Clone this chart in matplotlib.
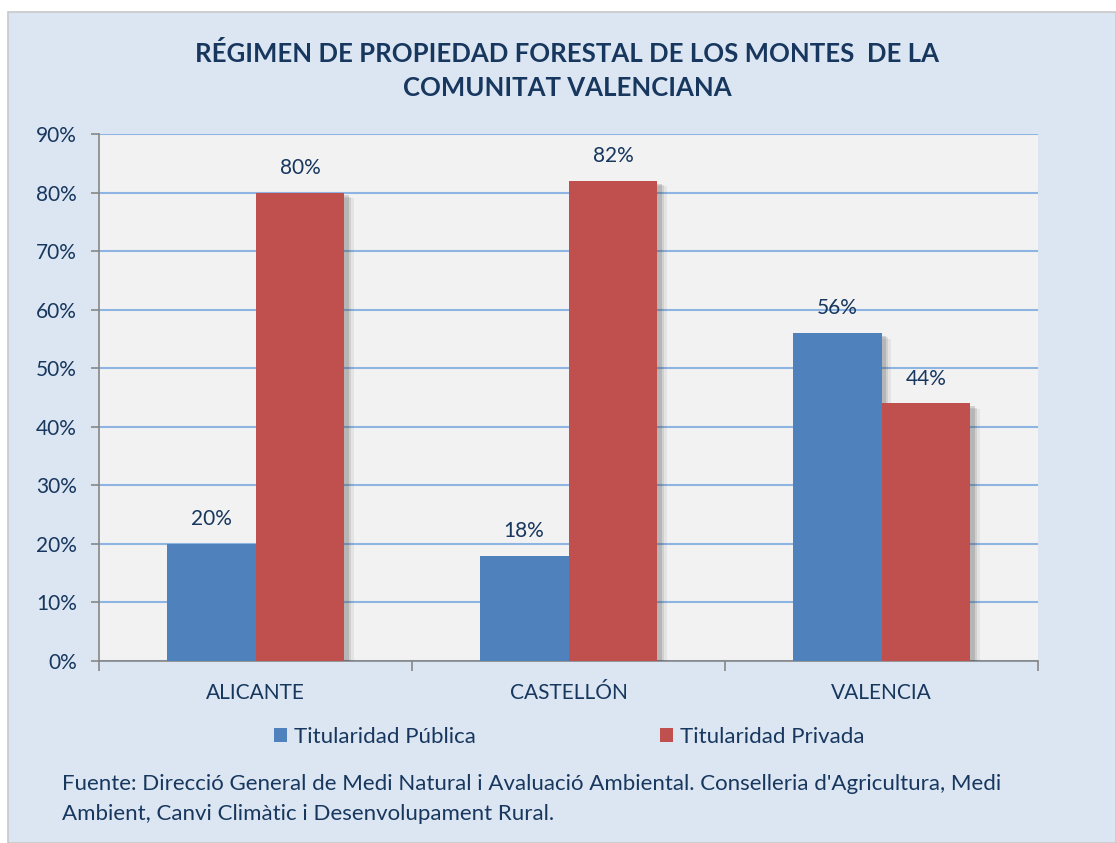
import numpy as np
import matplotlib
matplotlib.use("Agg")
import matplotlib.pyplot as plt
import matplotlib.patheffects as pe
from matplotlib.patches import Rectangle, Patch
from matplotlib.ticker import PercentFormatter


# ---------- DATA ----------
categories = ["ALICANTE", "CASTELLÓN", "VALENCIA"]
publica = [20, 18, 56]
privada = [80, 82, 44]
series_names = ["Titularidad Pública", "Titularidad Privada"]
y_ticks = [0, 10, 20, 30, 40, 50, 60, 70, 80, 90]

title = "RÉGIMEN DE PROPIEDAD FORESTAL DE LOS MONTES  DE LA\nCOMUNITAT VALENCIANA"
source = ("Fuente: Direcció General de Medi Natural i Avaluació Ambiental. Conselleria d'Agricultura, Medi\n"
          "Ambient, Canvi Climàtic i Desenvolupament Rural.")

# ---------- STYLE ----------
BLUE = "#4f81bd"
RED = "#c0504d"
TEXT = "#17375e"
PANEL = "#dce6f2"
PLOTBG = "#f2f2f2"
GRID = "#8eb4e3"
plt.rcParams["font.family"] = ["Lato", "DejaVu Sans"]

W, H = 1116, 843
fig = plt.figure(figsize=(W / 100, H / 100), dpi=100)
fig.patch.set_facecolor("white")

# light blue chart panel with thin grey border
panel = Rectangle((8 / W, 0), 1 - 8 / W, 1 - 12 / H, transform=fig.transFigure,
                  facecolor=PANEL, edgecolor="#c8c8c8", linewidth=1.2, zorder=-10)
fig.patches.append(panel)

ax = fig.add_axes([99 / W, 1 - 661 / H, (1038 - 99) / W, (661 - 134) / H])
ax.set_facecolor(PLOTBG)

x = np.arange(len(categories))
bw = 0.284
# soft drop shadow: a few stacked translucent layers
shadow = [pe.SimplePatchShadow(offset=(7, -4), shadow_rgbFace="#404040", alpha=0.08),
          pe.SimplePatchShadow(offset=(5, -3), shadow_rgbFace="#404040", alpha=0.12),
          pe.SimplePatchShadow(offset=(3, -2), shadow_rgbFace="#404040", alpha=0.18),
          pe.Normal()]
b1 = ax.bar(x - bw / 2, publica, bw, color=BLUE, zorder=3, path_effects=shadow)
b2 = ax.bar(x + bw / 2, privada, bw, color=RED, zorder=3, path_effects=shadow)

for bars, vals in ((b1, publica), (b2, privada)):
    for rect, v in zip(bars, vals):
        ax.text(rect.get_x() + rect.get_width() / 2, v + 4.2, f"{v}%",
                ha="center", va="center", fontsize=15, color=TEXT, zorder=5)

ax.set_xlim(-0.5, len(categories) - 0.5)
ax.set_ylim(0, 90)
ax.set_yticks(y_ticks)
ax.yaxis.set_major_formatter(PercentFormatter(decimals=0))
ax.grid(axis="y", color=GRID, linewidth=1.5, zorder=1)
ax.set_axisbelow(True)

# category ticks at boundaries, labels centred
ax.set_xticks(np.arange(len(categories) + 1) - 0.5)
ax.set_xticklabels([])
ax.set_xticks(x, minor=True)
ax.set_xticklabels(categories, minor=True)
ax.tick_params(axis="x", which="minor", length=0, pad=16, labelsize=15, labelcolor=TEXT)
ax.tick_params(axis="x", which="major", length=7, width=1.2, color="#868686")
ax.tick_params(axis="y", length=6, width=1.2, color="#868686", labelsize=15,
               labelcolor=TEXT, pad=10)

for s in ("top", "right"):
    ax.spines[s].set_visible(False)
for s in ("left", "bottom"):
    ax.spines[s].set_color("#868686")
    ax.spines[s].set_linewidth(1.2)

fig.text(567 / W, 1 - 70 / H, title, ha="center", va="center", fontsize=18.5,
         fontweight="bold", color=TEXT, linespacing=1.5)

handles = [Patch(facecolor=BLUE), Patch(facecolor=RED)]
fig.legend(handles, series_names, loc="center", bbox_to_anchor=(569 / W, 1 - 737 / H),
           ncol=2, frameon=False, fontsize=16, labelcolor=TEXT, handlelength=0.6,
           handleheight=0.6, handletextpad=0.3, columnspacing=8.3)

fig.text(62 / W, 1 - 799 / H, source, ha="left", va="center", fontsize=16,
         color=TEXT, linespacing=1.6)

fig.savefig("out.png", dpi=100, facecolor=fig.get_facecolor())
plt.close(fig)
